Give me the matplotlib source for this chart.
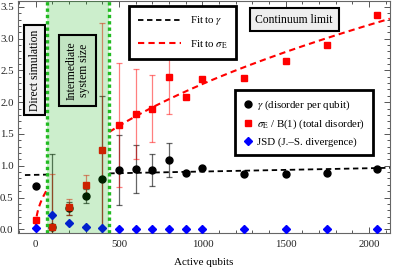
import numpy as np
import matplotlib
matplotlib.use('Agg')
import matplotlib.pyplot as plt
from matplotlib.lines import Line2D
from matplotlib.ticker import MultipleLocator

# data
qubits = [0, 100, 200, 300, 400, 500, 600, 700, 800, 900, 1000, 1250, 1500, 1750, 2048]
gamma = [0.68, 0.04, 0.33, 0.52, 0.79, 0.93, 0.95, 0.93, 1.09, 0.88, 0.96, 0.865, 0.875, 0.89, 0.953]
gamma_err = [0, 1.14, 0.10, 0.11, 1.31, 0.55, 0.38, 0.25, 0.26, 0, 0, 0, 0, 0, 0]
sigma = [0.15, 0.04, 0.35, 0.70, 1.24, 1.64, 1.81, 1.90, 2.39, 2.08, 2.37, 2.38, 2.65, 2.90, 3.37]
sigma_err = [0, 0.83, 0.12, 0.15, 2.01, 0.97, 0.71, 0.52, 0.57, 0, 0, 0, 0, 0, 0]
jsd = [0.02, 0.22, 0.10, 0.04, 0.02, 0.01, 0.01, 0.01, 0.01, 0.01, 0.01, 0.01, 0.01, 0.01, 0.01]

# fit parameters (gamma: a + b*x, sigma: c + d*sqrt(x))
gamma_fit = (0.857, 5.2e-5)
sigma_fit = (0.04, 0.071)

region = (65, 441)       # intermediate system size band
xlim = (-108, 2125)
ylim = (-0.063, 3.59)

plt.rcParams['font.family'] = ['Liberation Serif', 'DejaVu Serif']
plt.rcParams['mathtext.fontset'] = 'stix'
plt.rcParams['font.size'] = 7.8

fig = plt.figure(figsize=(3.95, 2.71), dpi=100)
ax = fig.add_axes([0.045, 0.139, 0.942, 0.857])

# error bars
ax.errorbar(qubits, gamma, yerr=gamma_err, fmt='none', ecolor='black', alpha=0.6,
            elinewidth=0.9, capsize=2.5, capthick=0.9, zorder=2)
ax.errorbar(qubits, sigma, yerr=sigma_err, fmt='none', ecolor='red', alpha=0.5,
            elinewidth=0.9, capsize=2.5, capthick=0.9, zorder=2)

# fits, drawn outside the shaded band
for seg in [(-65, region[0]), (region[1], xlim[1])]:
    xs = np.linspace(seg[0], seg[1], 200)
    ax.plot(xs, gamma_fit[0] + gamma_fit[1] * xs, color='black', lw=1.3,
            dashes=(3, 2), zorder=3)
for seg in [(0, region[0]), (region[1], xlim[1])]:
    xs = np.linspace(seg[0], seg[1], 300)
    ax.plot(xs, sigma_fit[0] + sigma_fit[1] * np.sqrt(xs), color='red', lw=1.5,
            dashes=(3, 2), zorder=3)

ax.plot(qubits, gamma, 'o', color='black', ms=5, zorder=4)
ax.plot(qubits, sigma, 's', color='red', ms=5, zorder=4)
ax.plot(qubits, jsd, 'D', color='blue', ms=3.8, zorder=4)

# shaded band sits on top of the points
ax.axvspan(region[0], region[1], color='#00aa00', alpha=0.2, lw=0, zorder=5)
for xv in region:
    ax.axvline(xv, color='#22bb22', lw=2.4, ls=(0, (1, 0.9)), zorder=6)

# annotations
ax.text(0.045, 0.703, 'Direct simulation', rotation=90, ha='center', va='center',
        transform=ax.transAxes, zorder=7, fontsize=8.4,
        bbox=dict(boxstyle='square,pad=0.4', fc='#f0f0f0', ec='black', lw=1.5))
ax.text(0.161, 0.700, 'Intermediate\nsystem size', rotation=90, ha='center', va='center',
        transform=ax.transAxes, zorder=7, multialignment='center', linespacing=1.0,
        fontsize=8.4,
        bbox=dict(boxstyle='square,pad=0.55', fc='#c2e4c2', ec='black', lw=1.5))
ax.text(0.743, 0.920, 'Continuum limit', ha='center', va='center',
        transform=ax.transAxes, zorder=7, fontsize=8.4,
        bbox=dict(boxstyle='square,pad=0.5', fc='#eeeeee', ec='black', lw=1.5))

# legends
fit_handles = [Line2D([], [], color='black', lw=1.3, dashes=(3, 2)),
               Line2D([], [], color='red', lw=1.5, dashes=(3, 2))]
leg1 = ax.legend(fit_handles, [r'Fit to $\gamma$', r'Fit to $\sigma_{\rm E}$'],
                 loc='upper left', bbox_to_anchor=(0.300, 0.978), borderaxespad=0,
                 handlelength=4.0, labelspacing=1.0, borderpad=0.75, handletextpad=0.8,
                 fancybox=False, framealpha=1, edgecolor='black')
leg1.get_frame().set_linewidth(2)
leg1.set_zorder(8)
ax.add_artist(leg1)

pt_handles = [Line2D([], [], marker='o', ls='none', color='black', ms=5),
              Line2D([], [], marker='s', ls='none', color='red', ms=5),
              Line2D([], [], marker='D', ls='none', color='blue', ms=3.8)]
leg2 = ax.legend(pt_handles, [r'$\gamma$ (disorder per qubit)',
                              r'$\sigma_{\rm E}$ / B(1) (total disorder)',
                              'JSD (J.\u2013S. divergence)'],
                 loc='upper left', bbox_to_anchor=(0.584, 0.617), borderaxespad=0,
                 handlelength=0.8, labelspacing=0.55, borderpad=0.75, handletextpad=0.5,
                 fancybox=False, framealpha=1, edgecolor='black')
leg2.get_frame().set_linewidth(2)
leg2.set_zorder(8)

# axes styling
ax.set_xlim(*xlim)
ax.set_ylim(*ylim)
ax.xaxis.set_major_locator(MultipleLocator(500))
ax.xaxis.set_minor_locator(MultipleLocator(100))
ax.yaxis.set_major_locator(MultipleLocator(0.5))
ax.yaxis.set_minor_locator(MultipleLocator(0.1))
ax.yaxis.set_major_formatter(plt.FormatStrFormatter('%.1f'))
ax.tick_params(which='both', direction='in', top=True, right=True, colors='#555555',
               labelcolor='#222222', width=0.7, labelsize=7.8)
ax.tick_params(which='major', length=4, pad=3)
ax.tick_params(axis='x', which='major', pad=5)
ax.tick_params(which='minor', length=2.2)
for s in ax.spines.values():
    s.set_color('#666666')
    s.set_linewidth(0.8)
ax.set_xlabel('Active qubits', labelpad=6, fontsize=8)

fig.savefig('out.png', dpi=100)
